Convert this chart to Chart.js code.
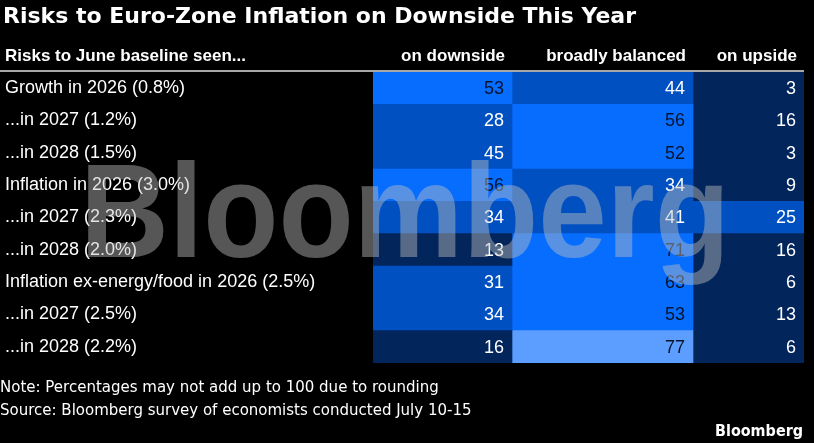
<!DOCTYPE html>
<html>
<head>
<meta charset="utf-8">
<script src="https://cdn.jsdelivr.net/npm/chart.js@4"></script>
<style>
  html, body { margin: 0; padding: 0; background: #000; }
  #wrap { width: 814px; height: 443px; }
</style>
</head>
<body>
<div id="wrap"><canvas id="riskTable" width="814" height="443"></canvas></div>
<script>
const rows = [
    'Growth in 2026 (0.8%)',
    '...in 2027 (1.2%)',
    '...in 2028 (1.5%)',
    'Inflation in 2026 (3.0%)',
    '...in 2027 (2.3%)',
    '...in 2028 (2.0%)',
    'Inflation ex-energy/food in 2026 (2.5%)',
    '...in 2027 (2.5%)',
    '...in 2028 (2.2%)'
];
const columns = ['on downside', 'broadly balanced', 'on upside'];
const downside = [53, 28, 45, 56, 34, 13, 31, 34, 16];
const balanced = [44, 56, 52, 34, 41, 71, 63, 53, 77];
const upside = [3, 16, 3, 9, 25, 16, 6, 13, 6];

const title = 'Risks to Euro-Zone Inflation on Downside This Year';
const headerLabel = 'Risks to June baseline seen...';
const note = 'Note: Percentages may not add up to 100 due to rounding';
const source = 'Source: Bloomberg survey of economists conducted July 10-15';

// column boundaries on the x scale (layout only)
const colEdges = [0, 139, 320, 431];

function cellColor(v) {
    if (v >= 75) return '#5c9eff';
    if (v >= 50) return '#066dff';
    if (v >= 20) return '#0050c2';
    return '#02255c';
}
function textColor(v) {
    return v >= 50 ? '#07142b' : '#ffffff';
}

const seriesValues = [downside, balanced, upside];

const datasets = seriesValues.map((vals, i) => ({
    label: columns[i],
    data: rows.map(() => [colEdges[i], colEdges[i + 1]]),
    values: vals,
    backgroundColor: vals.map(cellColor),
    borderWidth: 0,
    grouped: false,
    barPercentage: 1,
    categoryPercentage: 1
}));

const tablePlugin = {
    id: 'tablePlugin',
    afterDatasetsDraw(chart) {
        const ctx = chart.ctx;
        ctx.save();
        ctx.font = '18px "Liberation Sans", Arial, sans-serif';
        ctx.textAlign = 'right';
        ctx.textBaseline = 'middle';
        chart.data.datasets.forEach((ds, i) => {
            chart.getDatasetMeta(i).data.forEach((bar, j) => {
                const v = ds.values[j];
                ctx.fillStyle = textColor(v);
                ctx.fillText(String(v), bar.x - 8, bar.y + 1);
            });
        });
        ctx.restore();
    },
    afterDraw(chart) {
        const ctx = chart.ctx;
        const area = chart.chartArea;
        const x = chart.scales.x;
        ctx.save();

        // title
        ctx.fillStyle = '#ffffff';
        ctx.font = 'bold 22px "DejaVu Sans", Verdana, sans-serif';
        ctx.textAlign = 'left';
        ctx.textBaseline = 'alphabetic';
        ctx.fillText(title, 3, 23, 633);

        // header row
        ctx.font = 'bold 17px "Liberation Sans", Arial, sans-serif';
        ctx.textBaseline = 'middle';
        ctx.fillText(headerLabel, 5, 56);
        ctx.textAlign = 'right';
        columns.forEach((c, i) => {
            ctx.fillText(c, x.getPixelForValue(colEdges[i + 1]) - 7, 56);
        });

        // rule under header
        ctx.strokeStyle = '#a8a8a8';
        ctx.lineWidth = 2;
        ctx.beginPath();
        ctx.moveTo(0, area.top - 1);
        ctx.lineTo(area.right, area.top - 1);
        ctx.stroke();

        // watermark
        ctx.fillStyle = 'rgba(190, 190, 190, 0.45)';
        ctx.font = 'bold 133px "Liberation Sans", Arial, sans-serif';
        ctx.textAlign = 'left';
        ctx.textBaseline = 'alphabetic';
        ctx.fillText('Bloomberg', 80, 257, 650);

        // footer
        ctx.fillStyle = '#ffffff';
        ctx.font = '15px "DejaVu Sans", Verdana, sans-serif';
        ctx.fillText(note, 0, 392, 441);
        ctx.fillText(source, 0, 415, 474);
        ctx.font = 'bold 15px "DejaVu Sans", Verdana, sans-serif';
        ctx.textAlign = 'right';
        ctx.fillText('Bloomberg', 803, 436, 88);

        ctx.restore();
    }
};

const ctx = document.getElementById('riskTable').getContext('2d');

new Chart(ctx, {
    type: 'bar',
    data: {
        labels: rows,
        datasets: datasets
    },
    options: {
        indexAxis: 'y',
        responsive: false,
        animation: false,
        layout: {
            padding: { left: 5, right: 10, top: 72, bottom: 80 }
        },
        plugins: {
            legend: { display: false },
            tooltip: { enabled: false }
        },
        scales: {
            x: {
                display: false,
                min: colEdges[0],
                max: colEdges[colEdges.length - 1]
            },
            y: {
                grid: { display: false },
                border: { display: false },
                ticks: {
                    color: '#ffffff',
                    crossAlign: 'far',
                    padding: 0,
                    font: { family: '"Liberation Sans", Arial, sans-serif', size: 18 }
                },
                afterFit(scale) {
                    scale.width = 368;
                }
            }
        }
    },
    plugins: [tablePlugin]
});
</script>
</body>
</html>
